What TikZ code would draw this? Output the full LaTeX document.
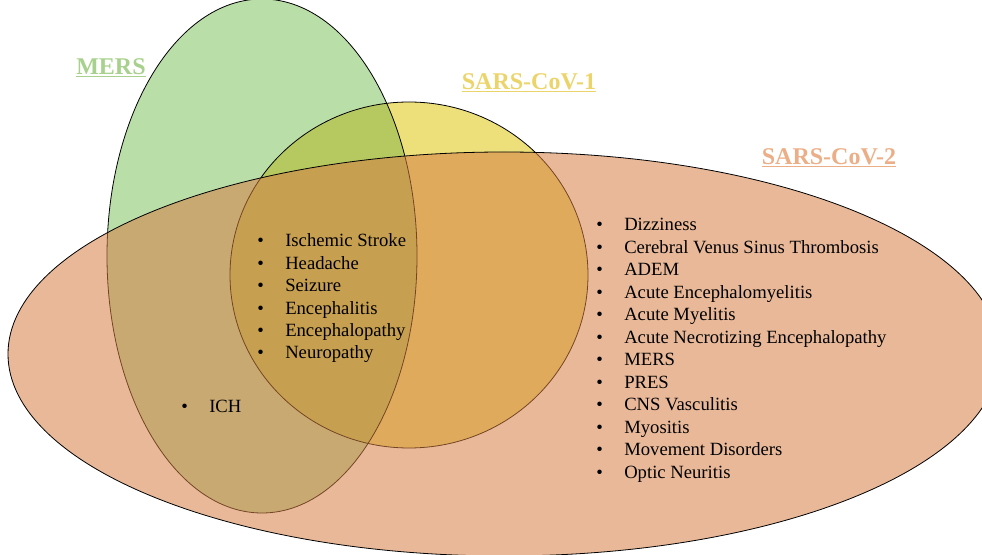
\documentclass[tikz,border=0pt]{standalone}
\usepackage{fontspec}
\setmainfont{Liberation Serif}

\definecolor{mersfill}{RGB}{185,222,168}
\definecolor{sarsonefill}{RGB}{237,224,122}
\definecolor{bothfill}{RGB}{181,201,96}
\definecolor{sarstwofill}{RGB}{213,126,68}
\definecolor{merstext}{RGB}{169,209,142}
\definecolor{sarsonetext}{RGB}{235,212,105}
\definecolor{sarstwotext}{RGB}{236,174,134}

\tikzset{
  outline/.style={draw=black,line width=0.6pt},
  title/.style={inner sep=0pt,font=\fontsize{18}{20}\selectfont\bfseries},
  item/.style={anchor=base west,inner sep=0pt,font=\fontsize{14}{16}\selectfont},
}
\newcommand{\bul}[1]{\makebox[21pt][l]{\textbullet}#1}

\begin{document}
\begin{tikzpicture}[x=0.75pt,y=-0.75pt]
  \useasboundingbox (0,0) rectangle (982,555);
  \clip (0,0) rectangle (982,555);

  % MERS and SARS-CoV-1
  \fill[mersfill] (262,256) ellipse [x radius=155,y radius=257];
  \fill[sarsonefill] (409,275) ellipse [x radius=179,y radius=173];
  \begin{scope}
    \clip (262,256) ellipse [x radius=155,y radius=257];
    \fill[bothfill] (409,275) ellipse [x radius=179,y radius=173];
  \end{scope}
  \draw[outline] (262,256) ellipse [x radius=155,y radius=257];
  \draw[outline] (409,275) ellipse [x radius=179,y radius=173];

  % SARS-CoV-2 on top
  \fill[sarstwofill,fill opacity=0.55] (504,354) ellipse [x radius=496,y radius=202];
  \draw[outline] (504,354) ellipse [x radius=496,y radius=202];

  \node[title,text=merstext] (mers) at (111,68) {\underline{MERS}};
  \node[title,text=sarsonetext] (sarsone) at (529,83) {\underline{SARS-CoV-1}};
  \node[title,text=sarstwotext] (sarstwo) at (829,158) {\underline{SARS-CoV-2}};

  % shared by all three
  \foreach \txt [count=\i] in {Ischemic Stroke,Headache,Seizure,Encephalitis,Encephalopathy,Neuropathy}
    \node[item] (core\i) at (257,{247+22.4*(\i-1)}) {\bul{\txt}};

  % MERS and SARS-CoV-2
  \node[item] (ich) at (181,413) {\bul{ICH}};

  % SARS-CoV-2 only
  \foreach \txt [count=\i] in {Dizziness,Cerebral Venus Sinus Thrombosis,ADEM,Acute Encephalomyelitis,Acute Myelitis,Acute Necrotizing Encephalopathy,MERS,PRES,CNS Vasculitis,Myositis,Movement Disorders,Optic Neuritis}
    \node[item] (only\i) at (596,{231+22.5*(\i-1)}) {\bul{\txt}};
\end{tikzpicture}
\end{document}
